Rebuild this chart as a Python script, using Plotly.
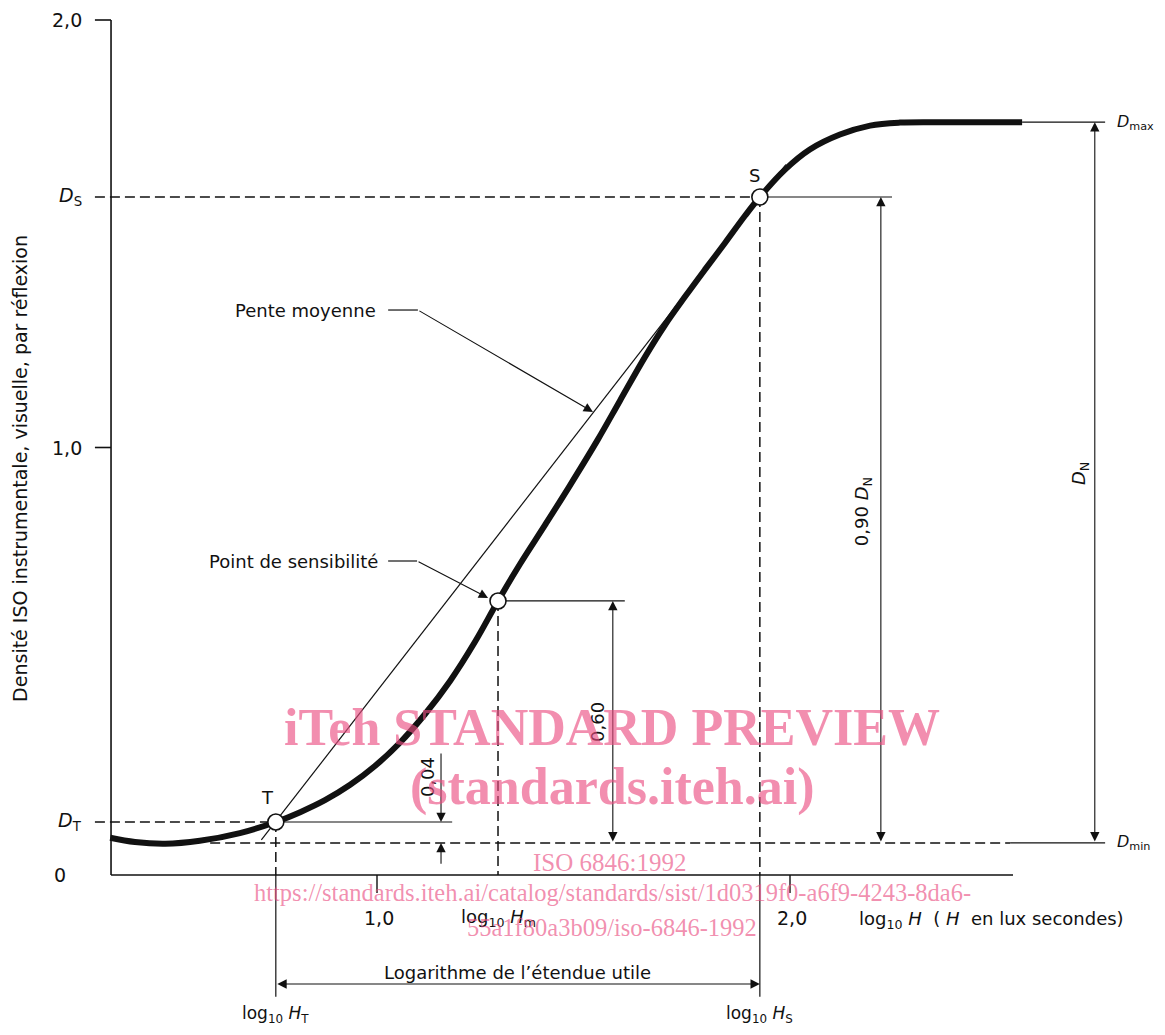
import plotly.graph_objects as go

# ---------------- data (log10 H units / density units) ----------------
CURVE_X = [0.354, 0.414, 0.487, 0.571, 0.668, 0.755, 0.814, 0.874, 0.935, 0.995,
           1.056, 1.116, 1.177, 1.237, 1.293, 1.346, 1.407, 1.467, 1.535, 1.588,
           1.649, 1.697, 1.746, 1.794, 1.843, 1.891, 1.927, 1.988, 2.048, 2.121,
           2.194, 2.266, 2.363, 2.562]
CURVE_Y = [0.087, 0.077, 0.073, 0.080, 0.098, 0.124, 0.147, 0.175, 0.211, 0.255,
           0.310, 0.376, 0.454, 0.545, 0.641, 0.727, 0.819, 0.911, 1.019, 1.109,
           1.212, 1.286, 1.353, 1.416, 1.479, 1.542, 1.586, 1.650, 1.697, 1.732,
           1.753, 1.760, 1.761, 1.761]

SLOPE_X = [0.72, 1.99]          # "Pente moyenne" straight line through T and S
SLOPE_Y = [0.082, 1.662]

LOG_HT, LOG_HM, LOG_HS = 0.755, 1.293, 1.927
D_MIN, D_T, D_M, D_S, D_MAX = 0.075, 0.124, 0.641, 1.586, 1.761

POINT_X = [LOG_HT, LOG_HM, LOG_HS]
POINT_Y = [D_T, D_M, D_S]

X_AXIS = [0.356, 2.540]
Y_AXIS = [0.0, 2.0]
X_TICKS = [1.0, 2.0]
X_TICK_LABELS = ["1,0", "2,0"]
Y_TICKS = [2.0, 1.0]
Y_TICK_LABELS = ["2,0", "1,0"]

# ---------------- mapping of the page (page has an 8 px body margin) ----------------
PAGE_OFF = 8
W, H = 1165 - 2 * PAGE_OFF, 1035 - 2 * PAGE_OFF
X_RANGE = [1 + (PAGE_OFF - 377) / 413, 1 + (PAGE_OFF + W - 377) / 413]
Y_RANGE = [(875 - (PAGE_OFF + H)) / 427.5, (875 - PAGE_OFF) / 427.5]

FONT = "DejaVu Sans"
BLACK = "#111111"
PINK = "rgba(234,78,130,0.64)"

fig = go.Figure()


def line(xs, ys, width=1.4, dash=None):
    fig.add_trace(go.Scatter(x=xs, y=ys, mode="lines",
                             line=dict(color=BLACK, width=width, dash=dash),
                             hoverinfo="skip", showlegend=False))


DASH = "10px,5px"
TICK_L = 0.317
TICK_DOWN = -0.042
EXT_DOWN = -0.285

# axes
line([X_AXIS[0], X_AXIS[0]], [Y_AXIS[0], Y_AXIS[1]], 1.6)
line(X_AXIS, [0, 0], 1.6)
for yt in Y_TICKS:
    line([TICK_L, X_AXIS[0]], [yt, yt], 1.6)
for xt in X_TICKS:
    line([xt, xt], [0, TICK_DOWN], 1.4)

# reference lines
line([TICK_L, LOG_HS], [D_S, D_S], 1.5, DASH)
line([LOG_HS, 2.247], [D_S, D_S], 1.2)
line([TICK_L, LOG_HT], [D_T, D_T], 1.5, DASH)
line([LOG_HT, 1.182], [D_T, D_T], 1.2)
line([LOG_HM, 1.600], [D_M, D_M], 1.2)
line([0.596, 2.533], [D_MIN, D_MIN], 1.5, DASH)
line([2.533, 2.763], [D_MIN, D_MIN], 1.2)
line([2.562, 2.763], [D_MAX, D_MAX], 1.2)
line([LOG_HT, LOG_HT], [D_T, 0], 1.5, DASH)
line([LOG_HT, LOG_HT], [0, EXT_DOWN], 1.2)
line([LOG_HM, LOG_HM], [D_M, 0], 1.5, DASH)
line([LOG_HS, LOG_HS], [D_S, 0], 1.5, DASH)
line([LOG_HS, LOG_HS], [0, EXT_DOWN], 1.2)

# mean slope + curve
line(SLOPE_X, SLOPE_Y, 1.2)
fig.add_trace(go.Scatter(x=CURVE_X, y=CURVE_Y, mode="lines",
                         line=dict(color=BLACK, width=6, shape="spline", smoothing=1.0),
                         hoverinfo="skip", showlegend=False))

# leader lines (horizontal parts)
line([1.027, 1.099], [1.3216, 1.3216], 1.2)
line([1.027, 1.097], [0.7345, 0.7345], 1.2)

# points
fig.add_trace(go.Scatter(x=POINT_X, y=POINT_Y, mode="markers",
                         marker=dict(size=16, color="white", line=dict(color=BLACK, width=1.6)),
                         hoverinfo="skip", showlegend=False))

ann = []


def arrow(x, y, ax, ay, both=False):
    ann.append(dict(x=x, y=y, ax=ax, ay=ay, xref="x", yref="y", axref="x", ayref="y",
                    text="", showarrow=True, arrowhead=2, arrowsize=1.7, arrowwidth=1.1,
                    arrowcolor=BLACK, arrowside="end+start" if both else "end",
                    standoff=0, startstandoff=0))


arrow(1.155, D_T, 1.155, 0.288)
arrow(1.155, D_MIN, 1.155, 0.023)
arrow(1.571, D_M, 1.571, D_MIN, both=True)
arrow(2.220, D_S, 2.220, D_MIN, both=True)
arrow(2.738, D_MAX, 2.738, D_MIN, both=True)
arrow(LOG_HS, -0.255, LOG_HT, -0.255, both=True)
arrow(1.523, 1.083, 1.099, 1.3216)
arrow(1.269, 0.648, 1.097, 0.7345)


def text(x, y, s, size=18, xanchor="center", yanchor="middle", angle=0, family=FONT,
         color=BLACK):
    ann.append(dict(x=x, y=y, xref="x", yref="y", text=s, showarrow=False,
                    xanchor=xanchor, yanchor=yanchor, textangle=angle,
                    font=dict(family=family, size=size, color=color)))


# y tick labels
for yt, lab in zip(Y_TICKS, Y_TICK_LABELS):
    text(0.291, yt, lab, size=19, xanchor="right")
text(0.252, 0.0, "0", size=19, xanchor="right")
text(0.291, D_S, "<i>D</i><sub>S</sub>", size=19, xanchor="right")
text(0.291, D_T, "<i>D</i><sub>T</sub>", size=19, xanchor="right")

# x tick labels
for xt, lab in zip(X_TICKS, X_TICK_LABELS):
    text(xt + 0.005, -0.101, lab, size=19)
text(LOG_HM, -0.101, "log<sub>10</sub> <i>H</i><sub>m</sub>")
text(2.163, -0.106, "log<sub>10</sub> <i>H</i>  ( <i>H</i>  en lux secondes)", xanchor="left")
text(LOG_HT, -0.326, "log<sub>10</sub> <i>H</i><sub>T</sub>", size=17)
text(LOG_HS, -0.326, "log<sub>10</sub> <i>H</i><sub>S</sub>", size=17)
text(1.341, -0.227, "Logarithme de l’étendue utile")

text(0.736, 0.182, "T")
text(1.915, 1.637, "S")
text(1.002, 1.3216, "Pente moyenne", xanchor="right")
text(1.007, 0.7345, "Point de sensibilité", xanchor="right")
text(2.786, D_MAX, "<i>D</i><sub>max</sub>", size=16, xanchor="left")
text(2.786, D_MIN, "<i>D</i><sub>min</sub>", size=16, xanchor="left")
text(2.177, 0.849, "0,90 <i>D</i><sub>N</sub>", angle=-90)
text(2.702, 0.940, "<i>D</i><sub>N</sub>", angle=-90)
text(1.535, 0.358, "0,60", angle=-90)
text(1.121, 0.229, "0,04", angle=-90)
text(0.1356, 0.950, "Densité ISO instrumentale, visuelle, par réflexion", size=19, angle=-90)

# watermark
SERIF = "Liberation Serif"
text(1.569, 0.346, "<b>iTeh STANDARD PREVIEW</b>", size=52, family=SERIF, color=PINK)
text(1.569, 0.206, "<b>(standards.iteh.ai)</b>", size=52, family=SERIF, color=PINK)
text(1.564, 0.030, "ISO 6846:1992", size=25, family=SERIF, color=PINK)
text(1.569, -0.042,
     "https://standards.iteh.ai/catalog/standards/sist/1d0319f0-a6f9-4243-8da6-",
     size=24.5, family=SERIF, color=PINK)
text(1.569, -0.122, "55a1f80a3b09/iso-6846-1992", size=24.5, family=SERIF, color=PINK)

fig.update_layout(
    width=W, height=H,
    margin=dict(l=0, r=0, t=0, b=0),
    paper_bgcolor="white", plot_bgcolor="white",
    xaxis=dict(range=X_RANGE, visible=False, fixedrange=True),
    yaxis=dict(range=Y_RANGE, visible=False, fixedrange=True),
    annotations=ann,
    showlegend=False,
)

fig.write_html("out.html")
